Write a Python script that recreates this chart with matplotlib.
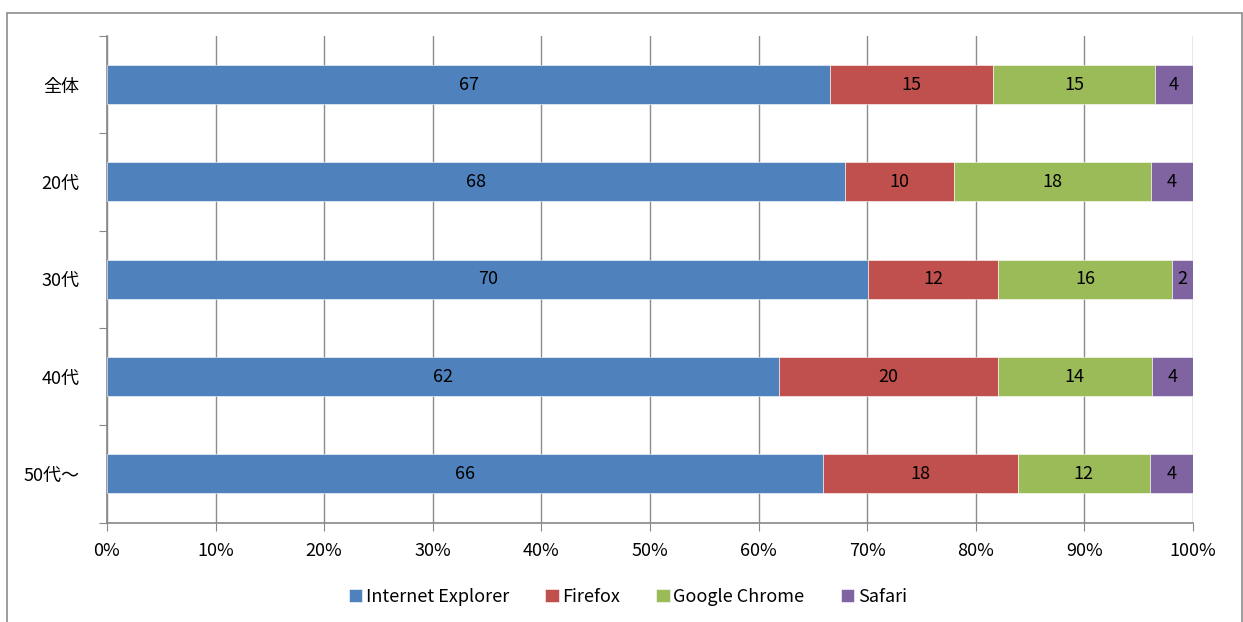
import numpy as np
import matplotlib.pyplot as plt
from matplotlib.patches import Rectangle

plt.rcParams['font.family'] = ['Noto Sans CJK JP', 'DejaVu Sans']

groups = ['全体', '20代', '30代', '40代', '50代〜']
browsers = ['Internet Explorer', 'Firefox', 'Google Chrome', 'Safari']
ie = [66.6, 68.0, 70.1, 61.9, 65.9]
firefox = [15.0, 10.0, 11.9, 20.1, 18.0]
chrome = [14.9, 18.1, 16.1, 14.2, 12.1]
safari = [3.5, 3.9, 1.9, 3.9, 4.0]
colors = ['#4F81BD', '#C0504D', '#9BBB59', '#8064A2']

series = [ie, firefox, chrome, safari]

fig = plt.figure(figsize=(12.43, 6.22), dpi=100)
ax = fig.add_axes([107 / 1243, 1 - 522.5 / 622, 1086 / 1243, 486.5 / 622])

ypos = np.arange(len(groups))
left = np.zeros(len(groups))
for vals, name, c in zip(series, browsers, colors):
    vals = np.array(vals)
    ax.barh(ypos, vals, left=left, height=0.4, color=c, label=name,
            edgecolor='white', linewidth=0.4, zorder=3)
    for y, l, v in zip(ypos, left, vals):
        ax.text(l + v / 2, y, '%d' % round(v), ha='center', va='center',
                fontsize=13, color='black', zorder=4)
    left = left + vals

ax.set_xlim(0, 100)
ax.set_ylim(len(groups) - 0.5, -0.5)
ax.set_xticks(np.arange(0, 101, 10))
ax.set_xticklabels(['%d%%' % v for v in range(0, 101, 10)], fontsize=13)
ax.tick_params(axis='x', length=6, color='#888888', pad=8)

ax.set_yticks(np.arange(-0.5, len(groups), 1))
ax.set_yticklabels([])
ax.set_yticks(ypos, minor=True)
ax.set_yticklabels(groups, minor=True, fontsize=13)
ax.tick_params(axis='y', which='major', length=6, color='#888888')
ax.tick_params(axis='y', which='minor', length=0, pad=20)

ax.grid(axis='x', color='#8c8c8c', linewidth=1, zorder=0)
ax.set_axisbelow(True)
for s in ['top', 'right']:
    ax.spines[s].set_visible(False)
for s in ['left', 'bottom']:
    ax.spines[s].set_color('#888888')
    ax.spines[s].set_linewidth(1.2)

fig.legend(loc='center', bbox_to_anchor=(0.505, 1 - 597 / 622), ncol=4,
           frameon=False, fontsize=13, handlelength=0.75, handleheight=0.75,
           handletextpad=0.2, columnspacing=2.0)

fig.patches.append(Rectangle((7 / 1243, -0.01), 1235 / 1243, 1 - 13 / 622 + 0.01,
                             transform=fig.transFigure, fill=False,
                             edgecolor='#8c8c8c', linewidth=1.2))

fig.savefig('out.png', dpi=100)
